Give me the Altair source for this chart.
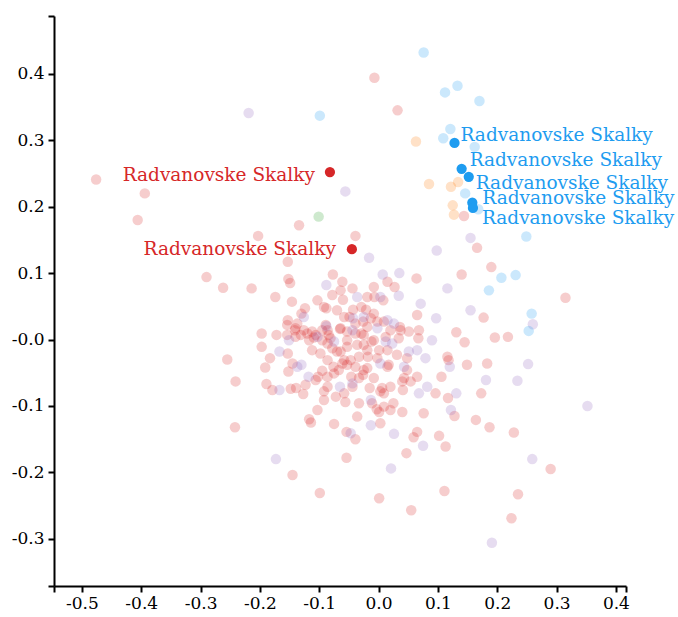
import altair as alt
import pandas as pd

# ---- background samples, by group ----
red_x = [-0.007, 0.032, -0.476, -0.394, -0.406, -0.134, -0.203, -0.039, -0.153, -0.290,
         -0.262, -0.214, -0.152, -0.149, -0.146, -0.174, -0.077, -0.061, -0.044, -0.064,
         0.015, -0.008, 0.064, 0.027, 0.144, 0.166, 0.190, 0.140, 0.315, 0.177,
         0.131, 0.145, 0.196, 0.218, 0.118, 0.149, 0.183, 0.106, 0.096, 0.117,
         0.173, 0.128, 0.164, 0.187, 0.228, 0.102, 0.113, 0.290, 0.235, 0.224,
         0.111, 0.055, 0.001, -0.099, -0.145, -0.054, 0.047, 0.065, 0.059, -0.039,
         -0.054, -0.075, -0.117, -0.114, -0.103, -0.242, -0.241, -0.255, -0.197, -0.197,
         -0.183, -0.191, -0.189, -0.179, -0.148, -0.139, -0.127, -0.153, -0.145, -0.152,
         -0.172, -0.141, -0.120, -0.109, -0.086, -0.065, -0.029, -0.043, -0.021, -0.008,
         -0.002, -0.026, -0.049, 0.036, 0.051, 0.068, 0.065, 0.067, 0.116, 0.076,
         0.065, 0.048, 0.031, 0.017, 0.040, 0.054, 0.025, 0.009, 0.001, 0.003,
         0.040, -0.036, -0.033, -0.056, -0.072, -0.092, -0.102, -0.095, -0.086, -0.076,
         -0.064, -0.061, -0.046, -0.026, -0.019, -0.008, -0.015, 0.006, 0.009, -0.039,
         -0.019, -0.002, -0.033, -0.053, -0.070, -0.098, -0.112, -0.086, -0.095, -0.008,
         0.015, 0.012, -0.124, -0.088, -0.130, -0.153, -0.078, -0.060, -0.019, -0.007,
         0.008, -0.003, 0.020, 0.041, -0.029, 0.009, 0.034, -0.012, -0.025, 0.001,
         -0.018, 0.015, 0.043, 0.048, 0.020, 0.003, -0.011, -0.058, -0.092, -0.086,
         -0.044, -0.033, -0.025, -0.053, -0.067, -0.075, -0.086, -0.106, -0.123, -0.154,
         -0.140, -0.078, -0.058, -0.047, -0.053, -0.036, -0.081, -0.095, -0.089, -0.084,
         -0.112, -0.106, -0.117, -0.126, -0.131, -0.154, -0.140, -0.137, -0.103, -0.092,
         -0.070, -0.058, -0.039, -0.064, -0.053, -0.039, -0.025, -0.019, -0.013, 0.020,
         0.037]
red_y = [0.394, 0.345, 0.241, 0.220, 0.180, 0.172, 0.156, 0.156, 0.117, 0.094,
         0.078, 0.077, 0.091, 0.085, 0.057, 0.064, 0.098, 0.087, 0.077, 0.074,
         0.087, 0.079, 0.092, 0.079, 0.186, 0.138, 0.109, 0.098, 0.063, 0.033,
         0.011, -0.004, 0.003, 0.004, -0.031, -0.038, -0.036, -0.056, -0.081, -0.088,
         -0.081, -0.115, -0.121, -0.132, -0.140, -0.145, -0.161, -0.195, -0.233, -0.269,
         -0.228, -0.257, -0.239, -0.231, -0.204, -0.178, -0.171, -0.139, -0.147, -0.150,
         -0.139, -0.127, -0.120, -0.125, -0.106, -0.132, -0.063, -0.030, 0.009, -0.011,
         -0.028, -0.042, -0.067, -0.076, -0.074, -0.073, -0.082, -0.021, -0.036, -0.048,
         0.007, 0.014, 0.009, 0.003, 0.014, 0.016, 0.009, 0.045, 0.045, 0.039,
         0.027, 0.027, 0.034, 0.019, 0.012, 0.014, 0.037, 0.002, -0.026, -0.111,
         -0.056, -0.028, -0.023, -0.038, -0.063, -0.063, -0.096, -0.101, -0.109, -0.126,
         -0.109, -0.116, -0.096, -0.094, -0.086, -0.091, -0.056, -0.047, -0.031, -0.041,
         -0.018, -0.036, -0.056, -0.053, -0.043, -0.058, -0.073, -0.073, -0.081, -0.041,
         -0.016, -0.028, -0.026, -0.011, -0.018, -0.021, -0.016, -0.006, -0.001, -0.001,
         -0.016, 0.004, 0.047, 0.047, 0.039, 0.029, 0.067, 0.060, 0.064, 0.064,
         0.059, -0.105, -0.106, -0.076, 0.049, 0.027, 0.002, -0.003, -0.008, -0.016,
         -0.026, -0.041, -0.058, -0.046, -0.071, -0.078, -0.096, -0.081, -0.078, -0.071,
         -0.071, -0.058, -0.046, -0.038, -0.046, -0.051, -0.056, -0.061, -0.068, 0.007,
         0.004, -0.013, -0.031, -0.031, -0.001, -0.008, 0.002, 0.014, 0.022, 0.007,
         0.012, 0.007, -0.001, 0.014, 0.007, 0.022, 0.017, 0.024, 0.059, 0.049,
         0.044, 0.034, 0.024, 0.017, 0.012, 0.009, 0.007, 0.019, 0.032, 0.014,
         0.014]

purple_x = [-0.219, -0.056, 0.098, -0.016, 0.155, 0.116, 0.155, 0.097, 0.260, 0.090,
            0.120, 0.252, 0.181, 0.234, 0.131, 0.122, 0.352, 0.259, 0.191, 0.021,
            -0.173, -0.047, -0.013, 0.026, 0.075, 0.068, 0.082, -0.013, -0.088, 0.007,
            0.035, 0.034, -0.036, -0.126, -0.151, -0.088, -0.044, -0.043, 0.015, 0.026,
            0.071, 0.065, 0.079, 0.043, 0.003, -0.167, -0.130, -0.118, -0.167, -0.065,
            -0.044, 0.023, -0.075, 0.003, 0.051, 0.012, -0.137, -0.103, -0.025, -0.002]
purple_y = [0.341, 0.223, 0.134, 0.123, 0.153, 0.077, 0.044, 0.032, 0.023, -0.001,
            -0.041, -0.037, -0.061, -0.062, -0.081, -0.106, -0.100, -0.180, -0.306, -0.194,
            -0.180, -0.141, -0.129, -0.142, -0.160, -0.081, -0.071, -0.091, 0.082, 0.098,
            0.100, 0.066, 0.064, 0.034, -0.001, 0.020, 0.014, 0.032, 0.029, 0.024,
            0.054, -0.016, -0.028, -0.041, -0.036, -0.018, -0.038, -0.056, -0.076, -0.071,
            -0.066, -0.006, -0.003, 0.064, -0.018, -0.003, -0.041, 0.004, 0.034, 0.017]

blue_x = [0.076, 0.112, 0.133, 0.170, -0.099, 0.121, 0.109, 0.162, 0.146, 0.168,
          0.249, 0.207, 0.231, 0.186, 0.258, 0.253]
blue_y = [0.432, 0.372, 0.382, 0.359, 0.337, 0.317, 0.303, 0.290, 0.220, 0.196,
          0.155, 0.093, 0.097, 0.074, 0.039, 0.013]

orange_x = [0.063, 0.085, 0.122, 0.134, 0.125, 0.127]
orange_y = [0.298, 0.234, 0.230, 0.237, 0.202, 0.188]

green_x = [-0.101]
green_y = [0.185]

# ---- highlighted samples ----
hl_name = "Radvanovske Skalky"
hl_red_x = [-0.082, -0.045]
hl_red_y = [0.252, 0.136]
hl_blue_x = [0.128, 0.140, 0.152, 0.158, 0.159]
hl_blue_y = [0.296, 0.257, 0.245, 0.206, 0.198]

groups = ["red", "purple", "blue", "orange", "green"]
colors = ["#d62728", "#9467bd", "#1e9cf0", "#ff7f0e", "#2ca02c"]

rows = []
for g, xs, ys in [("red", red_x, red_y), ("purple", purple_x, purple_y),
                  ("blue", blue_x, blue_y), ("orange", orange_x, orange_y),
                  ("green", green_x, green_y)]:
    rows += [{"x": a, "y": b, "group": g} for a, b in zip(xs, ys)]
bg = pd.DataFrame(rows)

hl_rows = [{"x": a, "y": b, "group": "red", "name": hl_name} for a, b in zip(hl_red_x, hl_red_y)]
hl_rows += [{"x": a, "y": b, "group": "blue", "name": hl_name} for a, b in zip(hl_blue_x, hl_blue_y)]
hl = pd.DataFrame(hl_rows)

x_dom = [-0.547, 0.417]
y_dom = [-0.371, 0.487]
x_ticks = [x_dom[0], -0.5, -0.4, -0.3, -0.2, -0.1, 0.0, 0.1, 0.2, 0.3, 0.4, x_dom[1]]
y_ticks = [y_dom[0], -0.3, -0.2, -0.1, 0.0, 0.1, 0.2, 0.3, 0.4, y_dom[1]]

FONT = "DejaVu Serif"

axis_style = dict(
    grid=False, title=None, domainColor="black", domainWidth=2,
    tickColor="black", tickWidth=2, tickSize=6, labelFont=FONT,
    labelFontSize=17, labelColor="black", labelOverlap=False,
    labelFlush=False, labelBound=False,
)

x_enc = alt.X("x:Q", scale=alt.Scale(domain=x_dom, nice=False, zero=False),
              axis=alt.Axis(values=x_ticks, labelPadding=3,
                            labelExpr="datum.value < -0.52 || datum.value > 0.41 ? '' : "
                                      "replace(format(datum.value, '.1f'), '\u2212', '-')",
                            **axis_style))
y_enc = alt.Y("y:Q", scale=alt.Scale(domain=y_dom, nice=False, zero=False),
              axis=alt.Axis(values=y_ticks, labelPadding=4,
                            labelExpr="datum.value < -0.35 || datum.value > 0.45 ? '' : "
                                      "(abs(datum.value) < 1e-9 ? '-0.0' : "
                                      "replace(format(datum.value, '.1f'), '\u2212', '-'))",
                            **axis_style))
color_enc = alt.Color("group:N", scale=alt.Scale(domain=groups, range=colors), legend=None)

faded = alt.Chart(bg).mark_circle(size=110, opacity=0.23).encode(
    x=x_enc, y=y_enc, color=color_enc)

strong = alt.Chart(hl).mark_circle(size=105, opacity=1).encode(
    x="x:Q", y="y:Q", color=color_enc)

# label offsets (dx, dy) for each highlighted point, in drawing order
red_offsets = [(-15, 3), (-16, 0)]
blue_offsets = [(6, -8), (8, -9), (7, 6), (10, -5), (9, 10)]

label_layers = []
hl_red = hl[hl.group == "red"].reset_index(drop=True)
hl_blue = hl[hl.group == "blue"].reset_index(drop=True)
for i, (dx, dy) in enumerate(red_offsets):
    label_layers.append(
        alt.Chart(hl_red.iloc[[i]]).mark_text(
            align="right", baseline="middle", dx=dx, dy=dy, font=FONT,
            fontSize=18.5, color="#d62728").encode(x="x:Q", y="y:Q", text="name:N"))
for i, (dx, dy) in enumerate(blue_offsets):
    label_layers.append(
        alt.Chart(hl_blue.iloc[[i]]).mark_text(
            align="left", baseline="middle", dx=dx, dy=dy, font=FONT,
            fontSize=18.5, color="#1e9cf0").encode(x="x:Q", y="y:Q", text="name:N"))

chart = alt.layer(faded, strong, *label_layers).properties(
    width=572, height=570,
    autosize=alt.AutoSizeParams(type="none"),
    padding={"left": 54, "top": 16, "right": 52, "bottom": 31},
).configure_view(stroke=None)

chart.save("out.html", embed_options={"renderer": "svg", "actions": False})
